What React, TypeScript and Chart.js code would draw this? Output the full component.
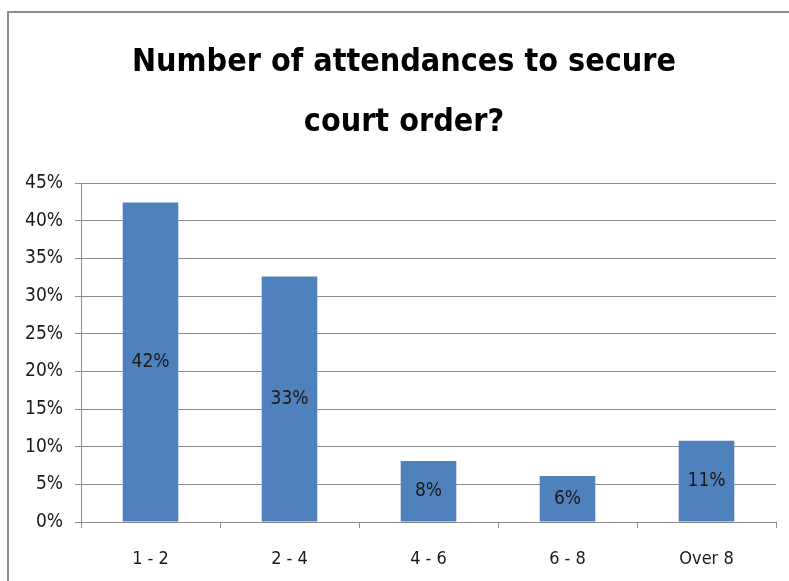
import React, { useEffect, useRef } from "react";
import { Chart, registerables } from "chart.js";

Chart.register(...registerables);

const title = ["Number of attendances to secure", "court order?"];
const categories = ["1 - 2", "2 - 4", "4 - 6", "6 - 8", "Over 8"];
const values = [42.4, 32.6, 8.1, 6.1, 10.8];
const barLabels = ["42%", "33%", "8%", "6%", "11%"];
const yMax = 45;
const yStep = 5;

const FONT = "'DejaVu Sans Condensed', 'DejaVu Sans', sans-serif";

const TITLE_CENTER_X = 404;
const TITLE_LINE_Y = [63, 123];

const titlePlugin = {
  id: "customTitle",
  afterDraw(chart: any) {
    const ctx = chart.ctx;
    ctx.save();
    ctx.font = `bold 32px ${FONT}`;
    ctx.fillStyle = "#000";
    ctx.textAlign = "center";
    ctx.textBaseline = "middle";
    title.forEach((line, i) => ctx.fillText(line, TITLE_CENTER_X, TITLE_LINE_Y[i]));
    ctx.restore();
  },
};

const labelPlugin = {
  id: "barLabels",
  afterDatasetsDraw(chart: any) {
    const ctx = chart.ctx;
    const meta = chart.getDatasetMeta(0);
    ctx.save();
    ctx.font = `19px ${FONT}`;
    ctx.fillStyle = "#1a1a1a";
    ctx.textAlign = "center";
    ctx.textBaseline = "middle";
    meta.data.forEach((bar: any, i: number) => {
      const y = (bar.y + bar.base) / 2;
      ctx.fillText(barLabels[i], bar.x, y);
    });
    ctx.restore();
  },
};

export default function App() {
  const ref = useRef<HTMLCanvasElement>(null);
  useEffect(() => {
    if (!ref.current) return;
    const chart = new Chart(ref.current, {
      type: "bar",
      data: {
        labels: categories,
        datasets: [
          {
            data: values,
            backgroundColor: "#4F81BD",
            borderWidth: 0,
            barPercentage: 0.4,
            categoryPercentage: 1,
          },
        ],
      },
      plugins: [labelPlugin, titlePlugin],
      options: {
        responsive: false,
        animation: false,
        layout: { padding: { left: 8, right: 13, top: 183, bottom: 0 } },
        plugins: {
          legend: { display: false },
          tooltip: { enabled: false },
          title: { display: false },
        },
        scales: {
          x: {
            grid: {
              offset: true,
              drawOnChartArea: false,
              drawTicks: true,
              tickLength: 6,
              color: "#8c8c8c",
            },
            border: { display: true, color: "#8c8c8c" },
            ticks: {
              color: "#1a1a1a",
              font: { family: FONT, size: 18 },
              padding: 21,
            },
            afterFit(scale: any) {
              scale.height = 59;
            },
          },
          y: {
            min: 0,
            max: yMax,
            grid: { color: "#8c8c8c", tickLength: 6 },
            border: { display: true, color: "#8c8c8c" },
            ticks: {
              stepSize: yStep,
              color: "#1a1a1a",
              font: { family: FONT, size: 19 },
              padding: 12,
              callback: (v: any) => `${v}%`,
            },
            afterFit(scale: any) {
              scale.width = 73;
            },
          },
        },
      },
    });
    return () => chart.destroy();
  }, []);
  return (
    <div style={{ position: "fixed", left: 0, top: 0, width: 789, height: 581, background: "#fff", overflow: "hidden" }}>
      <div
        style={{
          position: "absolute",
          left: 7,
          top: 11,
          width: 900,
          height: 700,
          border: "2px solid #8c8c8c",
          boxSizing: "border-box",
        }}
      />
      <canvas ref={ref} width={789} height={581} style={{ position: "absolute", left: 0, top: 0, display: "block" }} />
    </div>
  );
}
